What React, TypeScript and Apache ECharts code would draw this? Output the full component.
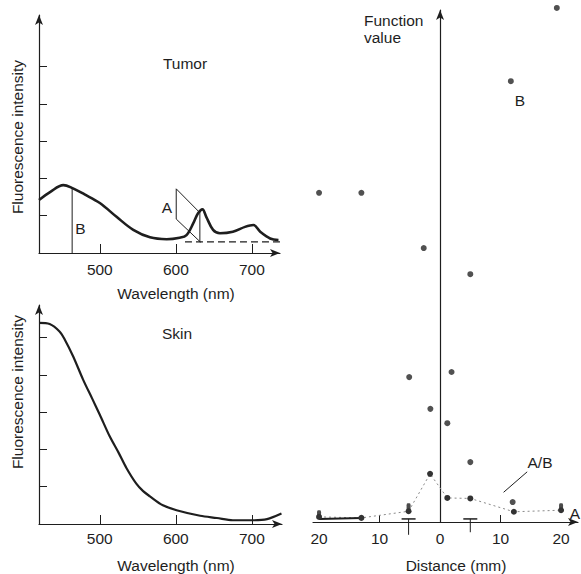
import React, { useEffect, useRef } from "react";
import * as echarts from "echarts";

// ---- Tumor spectrum ----
const tumorWavelength = [420, 435, 452, 464, 480, 500, 522, 544, 566, 588, 605, 614, 623, 629, 635, 640, 649, 658, 675, 691, 702, 711, 724, 735];
const tumorIntensity = [1.42, 1.64, 1.82, 1.74, 1.57, 1.34, 0.97, 0.62, 0.42, 0.37, 0.41, 0.48, 0.8, 1.06, 1.17, 0.97, 0.62, 0.53, 0.57, 0.7, 0.75, 0.57, 0.39, 0.35];
const tumorBaselineX = [612, 737];
const tumorBaselineY = [0.3, 0.3];
const markBX = [463.6, 463.6];
const markBY = [0, 1.74];
const markAParaX = [631.6, 600.5, 600.5, 632.5];
const markAParaY = [1.08, 1.72, 0.91, 0.29];
const markAVertX = [631.6, 631.6];
const markAVertY = [0.29, 1.1];

// ---- Skin spectrum ----
const skinWavelength = [420, 434, 447, 454, 465, 478, 490, 500, 513, 525, 535, 548, 557, 566, 583, 601, 632, 654, 675, 702, 720, 739];
const skinIntensity = [5.39, 5.36, 5.16, 4.94, 4.49, 3.87, 3.36, 2.93, 2.35, 1.9, 1.5, 1.08, 0.88, 0.74, 0.5, 0.37, 0.22, 0.16, 0.1, 0.1, 0.13, 0.28];

// ---- Function value vs distance ----
const bDistance = [-20, -13, -5.1, -2.7, -1.6, 1.2, 1.9, 5.0, 5.0, 11.7, 12.0, 19.3];
const bValue = [64.3, 64.3, 28.3, 53.5, 22.1, 19.3, 29.3, 48.4, 11.7, 86.1, 3.9, 100.4];
const abDistance = [-20, -13, -5.2, -1.65, 1.2, 5.0, 12.2, 20];
const abValue = [1.0, 0.8, 2.1, 9.4, 4.7, 4.6, 2.0, 2.3];
const aLineDistance = [-20, -13];
const aLineValue = [0.6, 0.8];
const aPointDistance = [-20, -5.2, 20];
const aPointValue = [1.5, 2.9, 2.9];
const tMarkDistance = [-5.2, 5.0];
const tMarkTop = [0.6, 0.6];
const tMarkBottom = [-2.5, -2.0];
const abLeaderX = [14.4, 10.5];
const abLeaderY = [9.8, 5.8];

const distanceLabels = [-20, -10, 0, 10, 20];
const distanceTicks = [-10, 10];
const wavelengthTicks = [500, 600, 700];
const intensityTicks = [1, 2, 3, 4, 5];

const FONT = "Liberation Sans";
const INK = "#1e1e1e";
const FS = 15.5;

const zip = (xs: number[], ys: number[]) => xs.map((x, i) => [x, ys[i]]);

export default function App() {
  const ref = useRef<HTMLDivElement>(null);

  useEffect(() => {
    if (!ref.current) return;
    const chart = echarts.init(ref.current, undefined, { renderer: "svg" });

    const arrowLine = (onZero: boolean) => ({
      show: true,
      onZero,
      symbol: ["none", "arrow"],
      symbolSize: [6, 10],
      lineStyle: { color: INK, width: 1.2 },
    });

    const wlAxis = (gridIndex: number, max: number, margin: number) => ({
      gridIndex,
      type: "value",
      min: 420,
      max,
      axisLine: arrowLine(false),
      axisTick: { show: true, inside: true, length: 9, customValues: wavelengthTicks, lineStyle: { color: INK, width: 1 } },
      axisLabel: { show: true, customValues: wavelengthTicks, margin, fontSize: FS, color: INK, fontFamily: FONT },
      splitLine: { show: false },
    });

    const intAxis = (gridIndex: number, max: number) => ({
      gridIndex,
      type: "value",
      min: 0,
      max,
      axisLine: arrowLine(false),
      axisTick: { show: true, inside: true, length: 8, customValues: intensityTicks, lineStyle: { color: INK, width: 1 } },
      axisLabel: { show: false },
      splitLine: { show: false },
    });

    const txt = (x: number, y: number, text: string, extra: any = {}) => ({
      type: "text",
      x,
      y,
      style: { text, fontSize: FS, fontFamily: FONT, fill: INK, align: "center", verticalAlign: "middle", ...extra },
    });

    const option: any = {
      animation: false,
      backgroundColor: "#ffffff",
      grid: [
        { left: 39, top: 15, width: 241, height: 238, containLabel: false, outerBoundsMode: "none" },
        { left: 39, top: 305, width: 243, height: 219, containLabel: false, outerBoundsMode: "none" },
        { left: 313, top: 10, width: 265, height: 512, containLabel: false, outerBoundsMode: "none" },
      ],
      xAxis: [
        wlAxis(0, 737, 8),
        wlAxis(1, 739.7, 6),
        {
          gridIndex: 2,
          type: "value",
          min: -21,
          max: 22.8,
          axisLine: arrowLine(true),
          axisTick: { show: true, inside: true, length: 7, customValues: distanceTicks, lineStyle: { color: INK, width: 1 } },
          axisLabel: {
            show: true,
            customValues: distanceLabels,
            margin: 8,
            fontSize: FS,
            color: INK,
            fontFamily: FONT,
            formatter: (v: number) => String(Math.abs(v)),
          },
          splitLine: { show: false },
        },
      ],
      yAxis: [
        intAxis(0, 6.38),
        intAxis(1, 5.87),
        {
          gridIndex: 2,
          type: "value",
          min: 0,
          max: 100,
          axisLine: arrowLine(true),
          axisTick: { show: false },
          axisLabel: { show: false },
          splitLine: { show: false },
        },
      ],
      series: [
        {
          type: "line",
          xAxisIndex: 0,
          yAxisIndex: 0,
          data: zip(tumorWavelength, tumorIntensity),
          smooth: 0.35,
          showSymbol: false,
          lineStyle: { color: INK, width: 2.6 },
        },
        {
          type: "line",
          xAxisIndex: 0,
          yAxisIndex: 0,
          data: zip(tumorBaselineX, tumorBaselineY),
          showSymbol: false,
          lineStyle: { color: INK, width: 1.3, type: [7, 4] },
        },
        {
          type: "line",
          xAxisIndex: 0,
          yAxisIndex: 0,
          data: zip(markBX, markBY),
          showSymbol: false,
          lineStyle: { color: INK, width: 1 },
        },
        {
          type: "line",
          xAxisIndex: 0,
          yAxisIndex: 0,
          data: zip(markAParaX, markAParaY),
          showSymbol: false,
          lineStyle: { color: INK, width: 1 },
        },
        {
          type: "line",
          xAxisIndex: 0,
          yAxisIndex: 0,
          data: zip(markAVertX, markAVertY),
          showSymbol: false,
          lineStyle: { color: INK, width: 1 },
        },
        {
          type: "line",
          xAxisIndex: 1,
          yAxisIndex: 1,
          data: zip(skinWavelength, skinIntensity),
          smooth: 0.3,
          showSymbol: false,
          lineStyle: { color: INK, width: 2.2 },
        },
        {
          type: "line",
          xAxisIndex: 2,
          yAxisIndex: 2,
          data: zip(abDistance, abValue),
          showSymbol: true,
          symbol: "circle",
          symbolSize: 6,
          itemStyle: { color: "#333" },
          lineStyle: { color: "#8a8a8a", width: 1, type: [2, 3] },
          clip: false,
        },
        {
          type: "line",
          xAxisIndex: 2,
          yAxisIndex: 2,
          data: zip(aLineDistance, aLineValue),
          showSymbol: false,
          lineStyle: { color: INK, width: 2 },
          clip: false,
        },
        {
          type: "scatter",
          xAxisIndex: 2,
          yAxisIndex: 2,
          data: zip(aPointDistance, aPointValue),
          symbol: "roundRect",
          symbolSize: [4, 8],
          itemStyle: { color: INK },
          clip: false,
        },
        {
          type: "scatter",
          xAxisIndex: 2,
          yAxisIndex: 2,
          data: zip(bDistance, bValue),
          symbol: "circle",
          symbolSize: 6,
          itemStyle: { color: "#262626" },
          clip: false,
        },
        {
          type: "line",
          xAxisIndex: 2,
          yAxisIndex: 2,
          data: zip(abLeaderX, abLeaderY),
          showSymbol: false,
          lineStyle: { color: INK, width: 1 },
        },
        {
          type: "custom",
          xAxisIndex: 2,
          yAxisIndex: 2,
          clip: false,
          data: tMarkDistance.map((d, i) => [d, tMarkTop[i], tMarkBottom[i]]),
          renderItem: (params: any, api: any) => {
            const x = api.value(0);
            const top = api.coord([x, api.value(1)]);
            const bot = api.coord([x, api.value(2)]);
            const half = 7;
            return {
              type: "group",
              children: [
                { type: "line", shape: { x1: top[0] - half, y1: top[1], x2: top[0] + half, y2: top[1] }, style: { stroke: INK, lineWidth: 1.5 } },
                { type: "line", shape: { x1: top[0], y1: top[1], x2: bot[0], y2: bot[1] }, style: { stroke: INK, lineWidth: 1 } },
              ],
            };
          },
        },
      ],
      graphic: [
        txt(185, 63, "Tumor"),
        txt(177, 333, "Skin"),
        txt(80.5, 228, "B"),
        txt(167, 207, "A"),
        txt(176, 293, "Wavelength (nm)"),
        txt(176, 565, "Wavelength (nm)"),
        { ...txt(17, 137, "Fluorescence intensity"), rotation: Math.PI / 2 },
        { ...txt(17, 392, "Fluorescence intensity"), rotation: Math.PI / 2 },
        txt(364, 20, "Function", { align: "left" }),
        txt(364, 37, "value", { align: "left" }),
        txt(520, 100, "B"),
        txt(540, 462, "A/B"),
        txt(575, 513, "A"),
        txt(456, 565, "Distance (mm)"),
      ],
    };

    chart.setOption(option);
    return () => chart.dispose();
  }, []);

  return (
    <div
      ref={ref}
      style={{ position: "absolute", left: 0, top: 0, width: 581, height: 574, background: "#fff" }}
    />
  );
}
